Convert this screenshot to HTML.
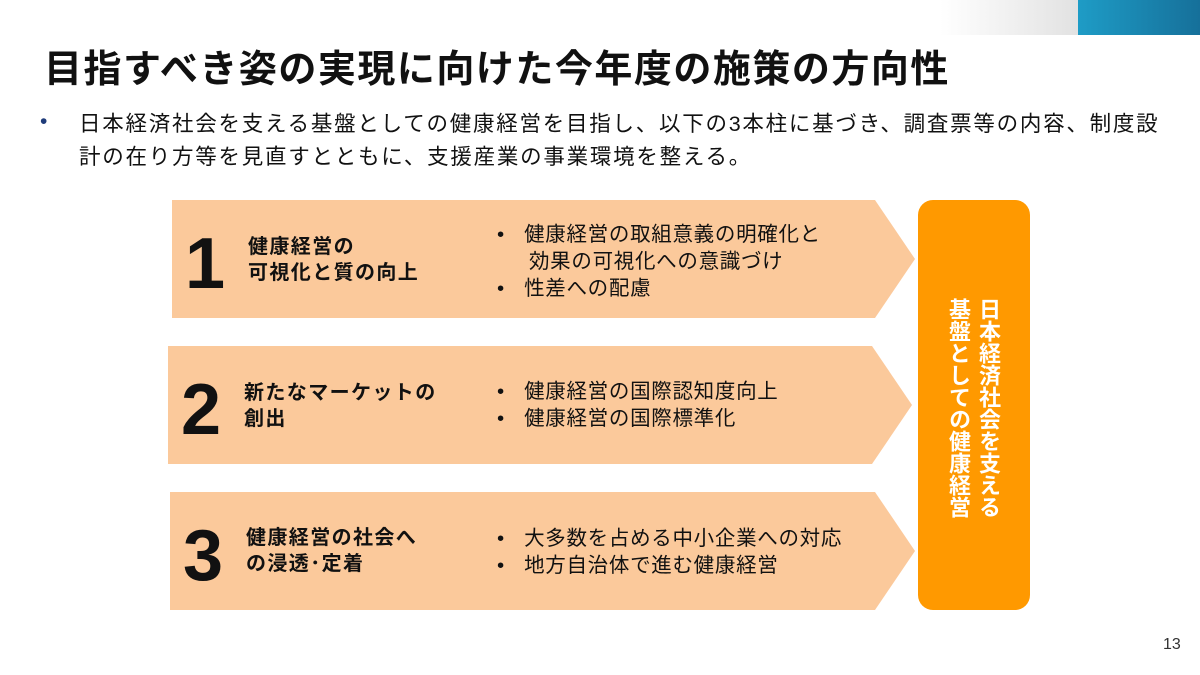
<!DOCTYPE html>
<html><head><meta charset="utf-8"><style>
body{margin:0;width:1200px;height:675px;background:#fff;position:relative;overflow:hidden;font-family:"Liberation Sans","Noto Sans CJK JP",sans-serif;color:#111}
.abs{position:absolute}
.t{white-space:nowrap}
.num{position:absolute;font-family:"Liberation Sans",sans-serif;font-weight:bold;font-size:72px;line-height:1}
.h{position:absolute;font-weight:bold;font-size:20px;letter-spacing:1.4px;line-height:26px;white-space:nowrap}
.b{position:absolute;font-size:20.5px;letter-spacing:0.7px;line-height:27px;white-space:nowrap}
</style></head><body>
<div class="abs" style="left:940px;top:0;width:138px;height:35px;background:linear-gradient(90deg,#fff,#e2e2e2)"></div>
<div class="abs" style="left:1078px;top:0;width:122px;height:35px;background:linear-gradient(90deg,#1e9cc6,#16709a)"></div>
<div class="abs t" style="left:44px;top:46px;font-size:38px;font-weight:bold;line-height:48px;letter-spacing:1.5px">目指すべき姿の実現に向けた今年度の施策の方向性</div>
<div class="abs" style="left:40px;top:110px;font-size:21px;color:#1f3c7a">•</div>
<div class="abs t" style="left:79px;top:108px;font-size:21.5px;line-height:33px;letter-spacing:1.75px">日本経済社会を支える基盤としての健康経営を目指し、以下の3本柱に基づき、調査票等の内容、制度設<br>計の在り方等を見直すとともに、支援産業の事業環境を整える。</div>
<svg class="abs" style="left:0;top:0" width="1200" height="675">
<polygon points="172,200 875,200 915,259 875,318 172,318" fill="#fbc99b"/>
<polygon points="168,346 872,346 912,405 872,464 168,464" fill="#fbc99b"/>
<polygon points="170,492 875,492 915,551 875,610 170,610" fill="#fbc99b"/>
<rect x="918" y="200" width="112" height="410" rx="15" fill="#ff9900"/>
</svg>
<div class="num" style="left:185px;top:228px">1</div>
<div class="h" style="left:248px;top:234px">健康経営の<br>可視化と質の向上</div>
<div class="b" style="left:497px;top:221px">•&nbsp;&nbsp;&nbsp;健康経営の取組意義の明確化と<br>&nbsp;&nbsp;&nbsp;&nbsp;&nbsp;効果の可視化への意識づけ<br>•&nbsp;&nbsp;&nbsp;性差への配慮</div>
<div class="num" style="left:181px;top:374px">2</div>
<div class="h" style="left:244px;top:380px">新たなマーケットの<br>創出</div>
<div class="b" style="left:497px;top:378px">•&nbsp;&nbsp;&nbsp;健康経営の国際認知度向上<br>•&nbsp;&nbsp;&nbsp;健康経営の国際標準化</div>
<div class="num" style="left:183px;top:520px">3</div>
<div class="h" style="left:246px;top:525px">健康経営の社会へ<br>の浸透･定着</div>
<div class="b" style="left:497px;top:525px">•&nbsp;&nbsp;&nbsp;大多数を占める中小企業への対応<br>•&nbsp;&nbsp;&nbsp;地方自治体で進む健康経営</div>
<div class="abs" style="left:943px;top:298px;writing-mode:vertical-rl;font-size:22px;font-weight:bold;color:#fff;line-height:30px;height:240px">日本経済社会を支える<br>基盤としての健康経営</div>
<div class="abs" style="left:1163px;top:636px;font-size:16px;color:#333">13</div>
</body></html>
